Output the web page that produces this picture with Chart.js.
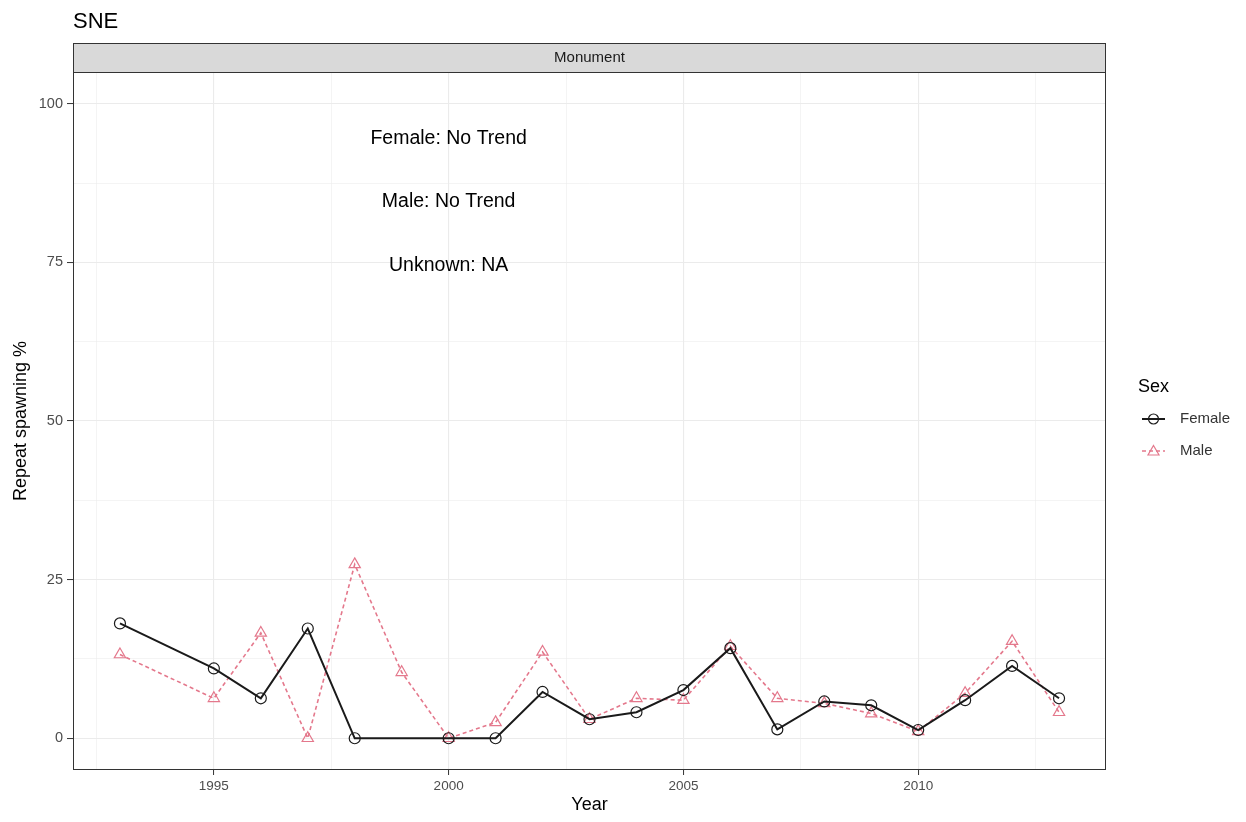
<!DOCTYPE html>
<html>
<head>
<meta charset="utf-8">
<script src="https://cdn.jsdelivr.net/npm/chart.js@4.4.0/dist/chart.umd.min.js"></script>
<style>
html,body{margin:0;padding:0;background:#fff;}
#wrap{width:1246px;height:822px;position:relative;}
</style>
</head>
<body>
<div id="wrap"><canvas id="chart"></canvas></div>
<script>
// data
var years  = [1993,1995,1996,1997,1998,1999,2000,2001,2002,2003,2004,2005,2006,2007,2008,2009,2010,2011,2012,2013];
var female = [18.1,11.0,6.3,17.3,0,null,0,0,7.3,3.0,4.1,7.6,14.2,1.4,5.8,5.2,1.3,6.0,11.4,6.3];
var male   = [13.2,6.3,16.6,0,27.4,10.4,0,2.5,13.6,3.0,6.3,6.0,14.5,6.3,5.5,3.9,1.1,7.1,15.3,4.1];

var xTicks = [1995,2000,2005,2010];
var xMinor = [1992.5,1997.5,2002.5,2007.5,2012.5];
var yTicks = [0,25,50,75,100];
var yMinor = [12.5,37.5,62.5,87.5];

var notes = ['Female: No Trend','Male: No Trend','Unknown: NA'];
var noteY = [94.5,84.5,74.5];
var noteX = 2000;

var FONT = '"Liberation Sans", Arial, sans-serif';

function pts(vals){
  var out = [];
  for (var i = 0; i < years.length; i++) {
    if (vals[i] !== null) out.push({x: years[i], y: vals[i]});
  }
  return out;
}
function isMajor(list, v){ return list.indexOf(v) >= 0; }

// strip, title, panel border, notes, legend
var ggDecor = {
  id: 'ggDecor',
  beforeDraw: function(chart){
    var c = chart.ctx, a = chart.chartArea;
    c.save();
    c.fillStyle = '#000';
    c.font = '22px ' + FONT;
    c.textBaseline = 'middle';
    c.textAlign = 'left';
    c.fillText('SNE', a.left, 22);
    // facet strip
    c.fillStyle = '#D9D9D9';
    c.fillRect(a.left, 43, a.right - a.left, a.top - 43);
    c.strokeStyle = '#333333';
    c.lineWidth = 1;
    c.strokeRect(a.left + 0.5, 43.5, a.right - a.left - 1, a.top - 43);
    c.fillStyle = '#1A1A1A';
    c.font = '15px ' + FONT;
    c.textAlign = 'center';
    c.fillText('Monument', (a.left + a.right) / 2, 58);
    c.restore();
  },
  afterDatasetsDraw: function(chart){
    var c = chart.ctx, a = chart.chartArea;
    var xs = chart.scales.x, ys = chart.scales.y;
    c.save();
    c.fillStyle = '#000';
    c.font = '19.5px ' + FONT;
    c.textAlign = 'center';
    c.textBaseline = 'middle';
    for (var i = 0; i < notes.length; i++) {
      c.fillText(notes[i], xs.getPixelForValue(noteX), ys.getPixelForValue(noteY[i]));
    }
    c.strokeStyle = '#333333';
    c.lineWidth = 1;
    c.strokeRect(a.left + 0.5, a.top + 0.5, a.right - a.left - 1, a.bottom - a.top - 1);

    // legend
    c.textAlign = 'left';
    c.font = '18px ' + FONT;
    c.fillText('Sex', 1138, 387);
    var rows = [419, 451];
    chart.data.datasets.forEach(function(ds, k){
      var y = rows[k];
      c.strokeStyle = ds.borderColor;
      c.lineWidth = ds.borderWidth;
      c.setLineDash(ds.borderDash || []);
      c.beginPath(); c.moveTo(1142, y); c.lineTo(1165, y); c.stroke();
      c.setLineDash([]);
      c.lineWidth = 1.2;
      c.beginPath();
      if (ds.pointStyle === 'circle') {
        c.arc(1153.5, y, 5, 0, Math.PI * 2);
      } else {
        c.moveTo(1153.5, y - 5.5); c.lineTo(1159, y + 4); c.lineTo(1148, y + 4); c.closePath();
      }
      c.stroke();
      c.fillStyle = '#333333';
      c.font = '15px ' + FONT;
      c.fillText(ds.label, 1180, y);
    });
    c.restore();
  }
};

new Chart(document.getElementById('chart').getContext('2d'), {
  type: 'line',
  data: {
    datasets: [{
      label: 'Female',
      data: pts(female),
      borderColor: '#1A1A1A',
      borderWidth: 2,
      pointStyle: 'circle',
      pointRadius: 5.5,
      pointBorderWidth: 1.2,
      pointBackgroundColor: 'rgba(0,0,0,0)',
      pointBorderColor: '#1A1A1A',
      tension: 0,
      fill: false
    }, {
      label: 'Male',
      data: pts(male),
      borderColor: '#E4788C',
      borderWidth: 1.6,
      borderDash: [4, 3],
      pointStyle: 'triangle',
      pointRadius: 6.5,
      pointBorderWidth: 1.2,
      pointBackgroundColor: 'rgba(0,0,0,0)',
      pointBorderColor: '#E4788C',
      tension: 0,
      fill: false
    }]
  },
  options: {
    responsive: true,
    maintainAspectRatio: false,
    animation: false,
    devicePixelRatio: 1,
    layout: { padding: { top: 72, right: 140, bottom: 0, left: 0 } },
    plugins: {
      legend: { display: false },
      tooltip: { enabled: false }
    },
    scales: {
      x: {
        type: 'linear',
        min: 1992, max: 2014,
        afterBuildTicks: function(s){
          s.ticks = xTicks.concat(xMinor).sort().map(function(v){ return {value: v}; });
        },
        afterFit: function(s){ s.height = 52; },
        border: { display: false },
        grid: {
          color: '#EBEBEB',
          lineWidth: function(ctx){ return isMajor(xTicks, ctx.tick.value) ? 1.1 : 0.55; },
          drawTicks: true,
          tickLength: 5,
          tickWidth: 1,
          tickColor: function(ctx){ return isMajor(xTicks, ctx.tick.value) ? '#333333' : 'rgba(0,0,0,0)'; }
        },
        ticks: {
          autoSkip: false,
          maxRotation: 0,
          padding: 3,
          color: '#4D4D4D',
          font: { family: FONT, size: 13.5 },
          callback: function(v){ return isMajor(xTicks, v) ? String(v) : ''; }
        },
        title: {
          display: true,
          text: 'Year',
          color: '#000',
          font: { family: FONT, size: 18 },
          padding: { top: 0, bottom: 6 }
        }
      },
      y: {
        type: 'linear',
        min: -5, max: 105,
        afterBuildTicks: function(s){
          s.ticks = yTicks.concat(yMinor).sort(function(a, b){ return a - b; }).map(function(v){ return {value: v}; });
        },
        afterFit: function(s){ s.width = 73; },
        border: { display: false },
        grid: {
          color: '#EBEBEB',
          lineWidth: function(ctx){ return isMajor(yTicks, ctx.tick.value) ? 1.1 : 0.55; },
          drawTicks: true,
          tickLength: 6,
          tickWidth: 1,
          tickColor: function(ctx){ return isMajor(yTicks, ctx.tick.value) ? '#333333' : 'rgba(0,0,0,0)'; }
        },
        ticks: {
          autoSkip: false,
          padding: 4,
          color: '#4D4D4D',
          font: { family: FONT, size: 14.5 },
          callback: function(v){ return isMajor(yTicks, v) ? String(v) : ''; }
        },
        title: {
          display: true,
          text: 'Repeat spawning %',
          color: '#000',
          font: { family: FONT, size: 18 },
          padding: { top: 10, bottom: 0 }
        }
      }
    }
  },
  plugins: [ggDecor]
});
</script>
</body>
</html>
